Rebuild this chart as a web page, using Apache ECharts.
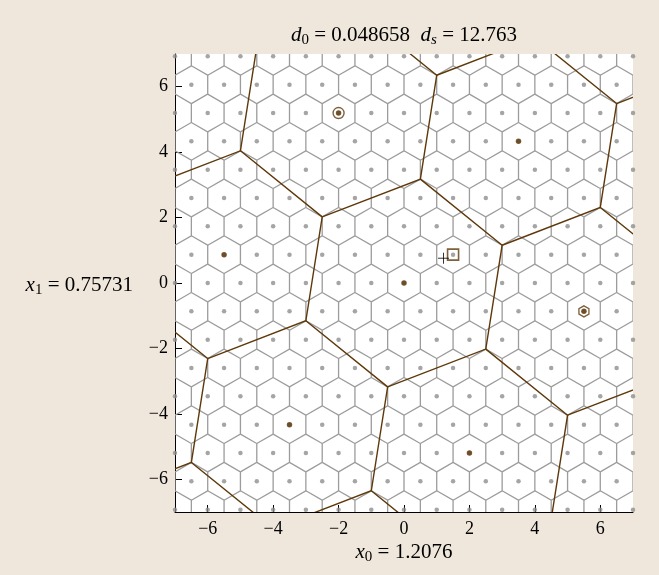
<!DOCTYPE html>
<html><head><meta charset="utf-8">
<script src="https://cdn.jsdelivr.net/npm/echarts@6/dist/echarts.min.js"></script>
<style>html,body{margin:0;padding:0;background:#EFE7DC;}#c{width:659px;height:575px;}</style>
</head><body><div id="c"></div>
<script>
// ---- data ----
const xRange = [-7, 7];
const yRange = [-7, 7];
const tickValues = [-6, -4, -2, 0, 2, 4, 6];
const fineBasis = [[1, 0], [0.5, 0.8660254]];          // fine hexagonal lattice generators
const coarseInFine = [[6, -1], [1, 5]];                // coarse lattice generators in fine-lattice coords
const inputPoint = [1.2076, 0.75731];                  // the "+" point (x0, x1)
const nearestFinePoint = [1.5, 0.8660254];             // square marker
const circledCoarsePoint = [-2, 5.1961524];            // circle marker
const hexCoarsePoint = [5.5, -0.8660254];              // hexagon marker
const d0Text = '0.048658';
const dsText = '12.763';
const x0Text = '1.2076';
const x1Text = '0.75731';

// ---- lattice construction ----
const e1 = fineBasis[0], e2 = fineBasis[1];
const A = [coarseInFine[0][0]*e1[0] + coarseInFine[0][1]*e2[0], coarseInFine[0][0]*e1[1] + coarseInFine[0][1]*e2[1]];
const B = [coarseInFine[1][0]*e1[0] + coarseInFine[1][1]*e2[0], coarseInFine[1][0]*e1[1] + coarseInFine[1][1]*e2[1]];

function latticePoints(u, v, n, lim) {
  const out = [];
  for (let i = -n; i <= n; i++) for (let j = -n; j <= n; j++) {
    const x = i*u[0] + j*v[0], y = i*u[1] + j*v[1];
    if (Math.abs(x) <= lim && Math.abs(y) <= lim) out.push([x, y]);
  }
  return out;
}
function inView(p) { return p[0] >= xRange[0]-1e-6 && p[0] <= xRange[1]+1e-6 && p[1] >= yRange[0]-1e-6 && p[1] <= yRange[1]+1e-6; }
// half of a hexagonal Voronoi cell (3 edges) so every edge is drawn once
function halfCell(u, v) {
  return [
    [(2*v[0]-u[0])/3, (2*v[1]-u[1])/3],
    [(u[0]+v[0])/3, (u[1]+v[1])/3],
    [(2*u[0]-v[0])/3, (2*u[1]-v[1])/3],
    [(u[0]-2*v[0])/3, (u[1]-2*v[1])/3]
  ];
}
const finePts = latticePoints(e1, e2, 20, 9);
const fineDots = finePts.filter(inView);
const coarsePts = latticePoints(A, B, 5, 12);
const coarseDots = coarsePts.filter(inView);
const fineHalf = halfCell(e1, e2);
const coarseHalf = halfCell(A, B);

const brown = '#5E380A';
function cellRenderer(offsets, color, width) {
  return function (params, api) {
    const cx = api.value(0), cy = api.value(1);
    const pts = offsets.map(o => api.coord([cx + o[0], cy + o[1]]));
    return { type: 'polyline', shape: { points: pts }, style: { stroke: color, lineWidth: width, fill: 'none' } };
  };
}
const fmt = v => v < 0 ? '\u2212' + Math.abs(v) : String(v);
const serif = 'Liberation Serif';
const rich = {
  n: { fontFamily: serif, fontSize: 21, color: '#000' },
  i: { fontFamily: serif, fontSize: 21, fontStyle: 'italic', color: '#000' },
  s: { fontFamily: serif, fontSize: 15, color: '#000', padding: [10, 0, 0, 0] },
  si: { fontFamily: serif, fontSize: 15, fontStyle: 'italic', color: '#000', padding: [10, 0, 0, 0] }
};
function axisCfg(margin) {
  return {
    type: 'value', min: 0, max: 0,
    axisLine: { show: true, onZero: false, lineStyle: { color: '#000', width: 1 } },
    axisTick: { show: true, inside: true, length: 7, customValues: tickValues, lineStyle: { color: '#000', width: 1 } },
    axisLabel: { customValues: tickValues, formatter: fmt, fontFamily: serif, fontSize: 18, color: '#000', margin: margin },
    splitLine: { show: false }
  };
}
const xAxis = axisCfg(8); xAxis.min = xRange[0]; xAxis.max = xRange[1];
const yAxis = axisCfg(7); yAxis.min = yRange[0]; yAxis.max = yRange[1];

const chart = echarts.init(document.getElementById('c'), null, { renderer: 'canvas' });
chart.setOption({
  animation: false,
  backgroundColor: '#EFE7DC',
  grid: { left: 175, top: 54, width: 458, height: 458, show: true, backgroundColor: '#fff', borderWidth: 0 },
  xAxis: xAxis,
  yAxis: yAxis,
  graphic: [
    { type: 'text', x: 404, y: 35, style: { text: '{i|d}{s|0}{n| = ' + d0Text + '  }{i|d}{si|s}{n| = ' + dsText + '}', rich: rich, align: 'center', verticalAlign: 'middle' } },
    { type: 'text', x: 404, y: 552, style: { text: '{i|x}{s|0}{n| = ' + x0Text + '}', rich: rich, align: 'center', verticalAlign: 'middle' } },
    { type: 'text', x: 133, y: 285, style: { text: '{i|x}{s|1}{n| = ' + x1Text + '}', rich: rich, align: 'right', verticalAlign: 'middle' } }
  ],
  series: [
    { type: 'custom', data: finePts, encode: { x: 0, y: 1 }, clip: true, renderItem: cellRenderer(fineHalf, '#9C9C9C', 1.3), z: 1 },
    { type: 'custom', data: coarsePts, encode: { x: 0, y: 1 }, clip: true, renderItem: cellRenderer(coarseHalf, brown, 1.4), z: 2 },
    { type: 'scatter', data: fineDots, symbol: 'circle', symbolSize: 4.5, clip: false, itemStyle: { color: '#8E8E8E' }, z: 3 },
    { type: 'scatter', data: coarseDots, symbol: 'circle', symbolSize: 5.5, clip: false, itemStyle: { color: brown }, z: 4 },
    { type: 'scatter', data: [circledCoarsePoint], symbol: 'circle', symbolSize: 11, itemStyle: { color: 'none', borderColor: brown, borderWidth: 1.4 }, z: 5 },
    { type: 'scatter', data: [nearestFinePoint], symbol: 'rect', symbolSize: 11, itemStyle: { color: 'none', borderColor: brown, borderWidth: 1.6 }, z: 5 },
    { type: 'scatter', data: [hexCoarsePoint], symbol: 'path://M0,-1L0.866,-0.5L0.866,0.5L0,1L-0.866,0.5L-0.866,-0.5Z', symbolSize: [10, 11], itemStyle: { color: 'none', borderColor: brown, borderWidth: 1.4 }, z: 5 },
    { type: 'scatter', data: [inputPoint], symbol: 'path://M-5,0L5,0M0,-5L0,5', symbolSize: 11, itemStyle: { color: 'none', borderColor: '#000', borderWidth: 1 }, z: 6 }
  ]
});
</script>
</body></html>
